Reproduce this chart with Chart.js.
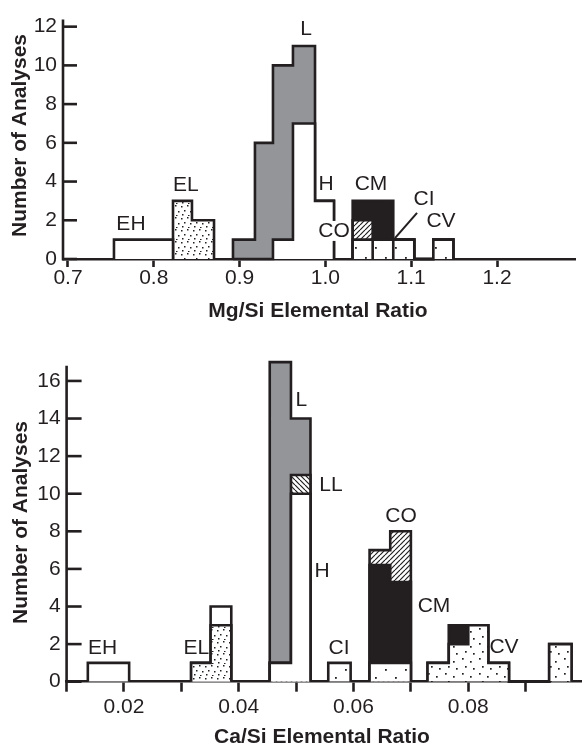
<!DOCTYPE html>
<html>
<head>
<meta charset="utf-8">
<title>Mg/Si and Ca/Si elemental ratio histograms</title>
<script src="https://cdn.jsdelivr.net/npm/chart.js@4.4.1/dist/chart.umd.min.js"></script>
<style>
  html, body { margin: 0; padding: 0; background: #fff; }
  body { width: 582px; height: 744px; position: relative; overflow: hidden; }
  canvas { position: absolute; left: 0; }
  #mgChart { top: 0; }
  #caChart { top: 340px; }
</style>
</head>
<body>
<canvas id="mgChart" width="582" height="340"></canvas>
<canvas id="caChart" width="582" height="404"></canvas>
<script>
// ---- Mg/Si panel: bin edges and counts per group ----
const mgEHEdges = [0.7536, 0.8224];
const mgEH = [1];
const mgELEdges = [0.8224, 0.8445, 0.8702];
const mgEL = [3, 2];
const mgLEdges = [0.8923, 0.9179, 0.9389, 0.9622, 0.9879, 1.0100];
const mgL = [1, 6, 9, 4, 0];
const mgH = [0, 0, 1, 7, 3];
const mgCEdges = [1.0318, 1.0551, 1.0791, 1.1036, 1.1258, 1.1491];
const mgCV = [1, 1, 0, 0, 1];
const mgCI = [0, 0, 1, 0, 0];
const mgCO = [1, 0, 0, 0, 0];
const mgCM = [1, 2, 0, 0, 0];
const mgTickLabels = ['0.7', '0.8', '0.9', '1.0', '1.1', '1.2'];

// ---- Ca/Si panel ----
const caEHEdges = [0.0137, 0.0209];
const caEH = [1];
const caELEdges = [0.0317, 0.0351, 0.0387];
const caEL = [1, 3];
const caEHatEL = [0, 1];
const caLEdges = [0.0454, 0.0491, 0.0525];
const caH = [1, 10];
const caLL = [0, 1];
const caL = [16, 3];
const caCIEdges = [0.0556, 0.0595];
const caCI = [1];
const caCMEdges = [0.0628, 0.0664, 0.0700];
const caCVatCM = [1, 1];
const caCM = [5.2, 4.3];
const caCO = [0.8, 2.7];
const caCVEdges = [0.0729, 0.0766, 0.0800, 0.0835, 0.0871, 0.0941, 0.0980];
const caCV = [1, 2, 3, 1, 0, 2];
const caCMatCV = [0, 1, 0, 0, 0, 0];
const caTickLabels = ['0.02', '0.04', '0.06', '0.08'];

const ink = '#231f20';
const grey = '#939598';
const lw = 2.6;
const fontFamily = "'Liberation Sans', Arial, Helvetica, sans-serif";
Chart.defaults.font.family = fontFamily;
Chart.defaults.color = ink;

// fill patterns
function tile(w, h, draw) {
  const c = document.createElement('canvas');
  c.width = w; c.height = h;
  const g = c.getContext('2d');
  g.fillStyle = '#fff';
  g.fillRect(0, 0, w, h);
  g.fillStyle = ink;
  g.strokeStyle = ink;
  draw(g);
  return g.createPattern(c, 'repeat');
}
const dotsDense = tile(12, 12, g => {
  [[1, 2], [7, 1], [4, 6], [10, 7], [2, 10], [8, 11]].forEach(p => g.fillRect(p[0], p[1], 1.5, 1.5));
});
const dotsMedium = tile(17, 15, g => {
  [[3, 3], [11, 6], [6, 11], [14, 13]].forEach(p => g.fillRect(p[0], p[1], 1.7, 1.7));
});
const dotsSparse = tile(20, 18, g => {
  [[5, 5], [15, 13]].forEach(p => g.fillRect(p[0], p[1], 1.8, 1.8));
});
const hatchUp = tile(5, 5, g => {
  g.lineWidth = 1.2;
  [-5, 0, 5].forEach(k => { g.beginPath(); g.moveTo(k, 5); g.lineTo(k + 5, 0); g.stroke(); });
});
const hatchDown = tile(5, 5, g => {
  g.lineWidth = 1.2;
  [-5, 0, 5].forEach(k => { g.beginPath(); g.moveTo(k, 0); g.lineTo(k + 5, 5); g.stroke(); });
});

// helpers to turn bins into outlines
const sum = (...arrs) => arrs[0].map((_, i) => arrs.reduce((s, a) => s + a[i], 0));
function steps(edges, tops) {
  const pts = [{ x: edges[0], y: 0 }];
  tops.forEach((h, i) => { pts.push({ x: edges[i], y: h }, { x: edges[i + 1], y: h }); });
  pts.push({ x: edges[edges.length - 1], y: 0 });
  return pts;
}
function boxes(edges, tops) {
  const pts = [];
  tops.forEach((h, i) => {
    if (h > 0) pts.push({ x: edges[i], y: 0 }, { x: edges[i], y: h }, { x: edges[i + 1], y: h }, { x: edges[i + 1], y: 0 });
  });
  return pts;
}
function layer(points, fill) {
  return {
    data: points, backgroundColor: fill, fill: 'origin',
    borderColor: ink, borderWidth: lw, borderJoinStyle: 'miter',
    pointRadius: 0, tension: 0, clip: false
  };
}

// axis line, inward y ticks, group labels and titles
function decor(c) {
  return {
    id: 'decor',
    afterDatasetsDraw(chart) {
      const { ctx, chartArea } = chart;
      const x = chart.scales.x, y = chart.scales.y;
      const x0 = chartArea.left;
      ctx.save();
      ctx.strokeStyle = ink;
      ctx.lineWidth = lw;
      ctx.beginPath();
      ctx.moveTo(x0, y.getPixelForValue(0) + lw / 2);
      ctx.lineTo(x0, y.getPixelForValue(c.axisTop));
      ctx.stroke();
      y.ticks.forEach(t => {
        const py = y.getPixelForValue(t.value);
        ctx.beginPath(); ctx.moveTo(x0, py); ctx.lineTo(x0 + c.tickLen, py); ctx.stroke();
      });
      (c.leaders || []).forEach(l => {
        ctx.lineWidth = 2;
        ctx.beginPath();
        ctx.moveTo(x.getPixelForValue(l[0]), y.getPixelForValue(l[1]));
        ctx.lineTo(x.getPixelForValue(l[2]), y.getPixelForValue(l[3]));
        ctx.stroke();
      });
      ctx.font = '21px ' + fontFamily;
      ctx.textAlign = 'center';
      ctx.textBaseline = 'middle';
      c.notes.forEach(n => {
        const px = x.getPixelForValue(n.x), py = y.getPixelForValue(n.y);
        if (n.knockout) {
          const w = ctx.measureText(n.text).width;
          ctx.fillStyle = '#fff';
          ctx.fillRect(px - w / 2 - 1, py - 10, w + 2, 20);
        }
        ctx.fillStyle = ink;
        ctx.fillText(n.text, px, py);
      });
      ctx.font = 'bold 21px ' + fontFamily;
      ctx.fillText(c.xTitle, c.xTitlePos[0], c.xTitlePos[1]);
      ctx.translate(c.yTitlePos[0], c.yTitlePos[1]);
      ctx.rotate(-Math.PI / 2);
      ctx.fillText('Number of Analyses', 0, 0);
      ctx.restore();
    }
  };
}

function options(c) {
  return {
    responsive: false, animation: false, events: [],
    layout: { padding: { top: c.top, right: c.right, left: 0, bottom: 0 } },
    plugins: { legend: { display: false }, tooltip: { enabled: false } },
    scales: {
      x: {
        type: 'linear', min: c.xMin, max: c.xMax,
        afterFit: s => { s.height = c.xHeight; },
        border: { display: true, color: ink, width: lw },
        grid: { drawOnChartArea: false, drawTicks: true, tickLength: c.xTick, tickWidth: lw, tickColor: ink, color: ink },
        ticks: {
          stepSize: c.xStep, includeBounds: false, autoSkip: false, maxRotation: 0, minRotation: 0,
          padding: c.xPad, color: ink, font: { size: 21, lineHeight: 1 },
          callback: v => { const s = v.toFixed(c.digits); return c.xLabels.includes(s) ? s : ''; }
        }
      },
      y: {
        type: 'linear', min: 0, max: c.yMax,
        afterFit: s => { s.width = c.yWidth; },
        border: { display: false },
        grid: { display: false, drawTicks: false },
        ticks: { stepSize: 2, includeBounds: false, padding: 6, color: ink, font: { size: 21, lineHeight: 1 } }
      }
    }
  };
}

new Chart(document.getElementById('mgChart'), {
  type: 'line',
  data: {
    datasets: [
      layer(steps(mgEHEdges, mgEH), '#fff'),
      layer(steps(mgELEdges, mgEL), dotsDense),
      layer(steps(mgLEdges, mgH), '#fff'),
      layer(steps(mgLEdges, sum(mgH, mgL)), grey),
      layer(boxes(mgCEdges, sum(mgCV, mgCI)), dotsSparse),
      layer(steps(mgCEdges, sum(mgCV, mgCI, mgCO)), hatchUp),
      layer(steps(mgCEdges, sum(mgCV, mgCI, mgCO, mgCM)), ink)
    ]
  },
  options: options({
    top: 19.5, right: 7, xHeight: 81, yWidth: 63,
    xMin: 0.6942, xMax: 1.2909, xStep: 0.1, digits: 1, xLabels: mgTickLabels,
    xTick: 8, xPad: 1, yMax: 12.37
  }),
  plugins: [decor({
    axisTop: 12.37, tickLen: 14,
    notes: [
      { text: 'EH', x: 0.7734, y: 1.81 },
      { text: 'EL', x: 0.8375, y: 3.82 },
      { text: 'L', x: 0.9774, y: 11.88 },
      { text: 'H', x: 1.0007, y: 3.87 },
      { text: 'CO', x: 1.0100, y: 1.45, knockout: true },
      { text: 'CM', x: 1.0531, y: 3.87 },
      { text: 'CI', x: 1.1149, y: 3.10 },
      { text: 'CV', x: 1.1347, y: 1.96 }
    ],
    leaders: [[1.0811, 1.08, 1.1068, 2.38]],
    xTitle: 'Mg/Si Elemental Ratio', xTitlePos: [318, 311], yTitlePos: [20.5, 135.5]
  })]
});

new Chart(document.getElementById('caChart'), {
  type: 'line',
  data: {
    datasets: [
      layer(steps(caEHEdges, caEH), '#fff'),
      layer(steps(caELEdges, caEL), dotsDense),
      layer(steps(caELEdges, sum(caEL, caEHatEL)), '#fff'),
      layer(steps(caLEdges, caH), '#fff'),
      layer(steps(caLEdges, sum(caH, caLL)), hatchDown),
      layer(steps(caLEdges, sum(caH, caLL, caL)), grey),
      layer(steps(caCIEdges, caCI), dotsSparse),
      layer(steps(caCMEdges, caCVatCM), dotsSparse),
      layer(steps(caCMEdges, sum(caCVatCM, caCM)), ink),
      layer(steps(caCMEdges, sum(caCVatCM, caCM, caCO)), hatchUp),
      layer(steps(caCVEdges, caCV), dotsMedium),
      layer(steps(caCVEdges, sum(caCV, caCMatCV)), ink)
    ]
  },
  options: options({
    top: 13.7, right: 0, xHeight: 62.3, yWidth: 66.6,
    xMin: 0.01, xMax: 0.09982, xStep: 0.01, digits: 2, xLabels: caTickLabels,
    xTick: 10, xPad: 5, yMax: 17.3
  }),
  plugins: [decor({
    axisTop: 16.81, tickLen: 15,
    notes: [
      { text: 'EH', x: 0.01625, y: 1.80 },
      { text: 'EL', x: 0.03260, y: 1.80 },
      { text: 'L', x: 0.05093, y: 14.99 },
      { text: 'LL', x: 0.05608, y: 10.43 },
      { text: 'H', x: 0.05451, y: 5.86 },
      { text: 'CO', x: 0.06827, y: 8.82 },
      { text: 'CM', x: 0.07403, y: 4.02 },
      { text: 'CI', x: 0.05747, y: 1.80 },
      { text: 'CV', x: 0.08622, y: 1.86 }
    ],
    xTitle: 'Ca/Si Elemental Ratio', xTitlePos: [322, 397], yTitlePos: [21, 182.5]
  })]
});
</script>
</body>
</html>
